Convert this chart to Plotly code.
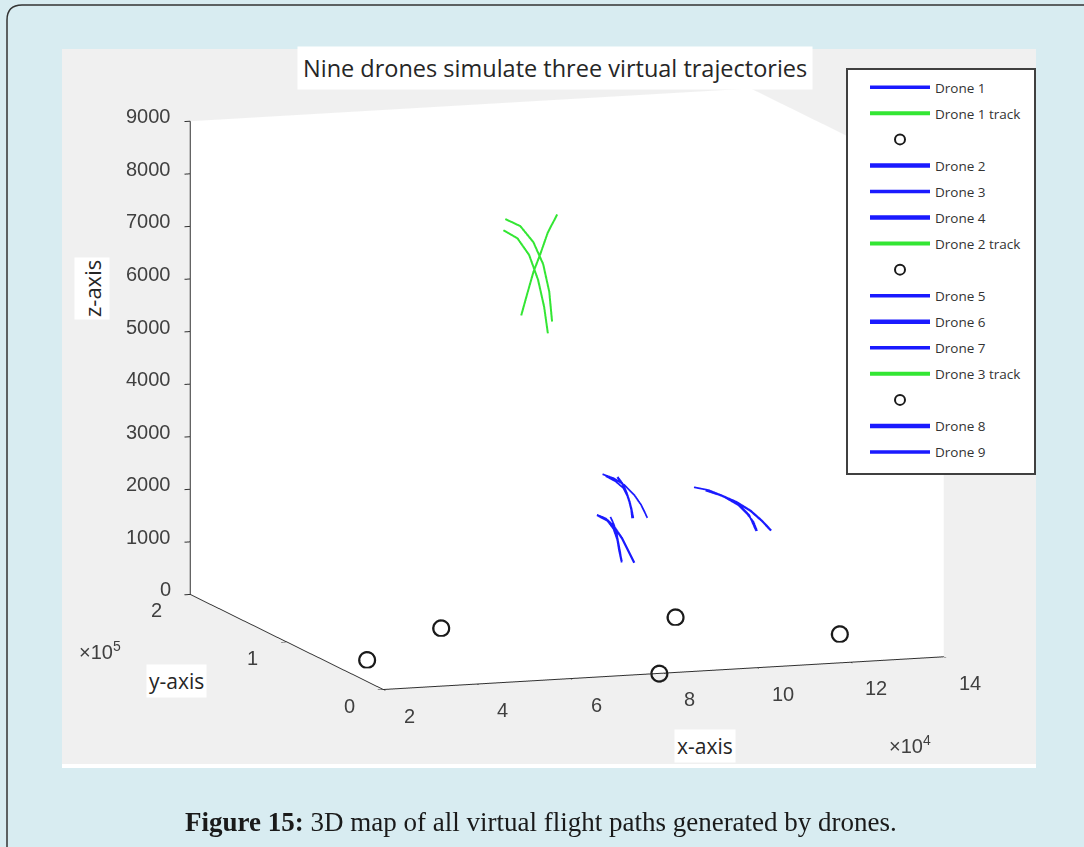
import plotly.graph_objects as go

# ---- axis limits and ticks ----
x_range = [20000, 140000]
y_range = [0, 200000]
z_range = [0, 9000]
x_ticks = [20000, 40000, 60000, 80000, 100000, 120000, 140000]
x_ticktext = ["2", "4", "6", "8", "10", "12", "14"]
y_ticks = [0, 100000, 200000]
y_ticktext = ["0", "1", "2"]
z_ticks = [0, 1000, 2000, 3000, 4000, 5000, 6000, 7000, 8000, 9000]
z_ticktext = ["0", "1000", "2000", "3000", "4000", "5000", "6000", "7000", "8000", "9000"]

# ---- drone flight paths (x, y, z) ----
d1_x = [87600, 90000, 92300, 94400, 95900, 97200]
d1_y = [100000, 100000, 100000, 100000, 100000, 100000]
d1_z = [2840, 2750, 2610, 2410, 2210, 1960]

d2_x = [90800, 91900, 92700, 93400, 93800, 94000]
d2_y = [100000, 100000, 100000, 100000, 100000, 100000]
d2_z = [2770, 2630, 2470, 2280, 2130, 1970]

d3_x = [88300, 90400, 92100, 93100, 93800, 94200]
d3_y = [100000, 100000, 100000, 100000, 100000, 100000]
d3_z = [2800, 2690, 2550, 2360, 2160, 1970]

d4_x = [86400, 88300, 90000, 91700, 93100, 94400]
d4_y = [100000, 100000, 100000, 100000, 100000, 100000]
d4_z = [2070, 1990, 1840, 1610, 1360, 1120]

d5_x = [89300, 90000, 90600, 91000, 91400, 91700]
d5_y = [100000, 100000, 100000, 100000, 100000, 100000]
d5_z = [2020, 1880, 1710, 1520, 1330, 1140]

d6_x = [86800, 88700, 90000, 90800, 91200, 91700]
d6_y = [100000, 100000, 100000, 100000, 100000, 100000]
d6_z = [2050, 1950, 1790, 1580, 1370, 1160]

d7_x = [107200, 110300, 113500, 116700, 119000, 120500]
d7_y = [100000, 100000, 100000, 100000, 100000, 100000]
d7_z = [2490, 2420, 2290, 2120, 1900, 1590]

d8_x = [109700, 112900, 116300, 119300, 121800, 123700]
d8_y = [100000, 100000, 100000, 100000, 100000, 100000]
d8_z = [2420, 2310, 2160, 1980, 1770, 1580]

d9_x = [110600, 113700, 116700, 118600, 119900, 120700]
d9_y = [100000, 100000, 100000, 100000, 100000, 100000]
d9_z = [2400, 2270, 2100, 1920, 1770, 1590]

# ---- virtual tracks ----
t1_x = [66800, 70000, 72800, 74900, 76200, 76800]
t1_y = [100000, 100000, 100000, 100000, 100000, 100000]
t1_z = [7800, 7650, 7330, 6900, 6370, 5800]

t2_x = [66400, 69400, 71900, 73800, 75100, 75900]
t2_y = [100000, 100000, 100000, 100000, 100000, 100000]
t2_z = [7590, 7420, 7090, 6610, 6090, 5580]

t3_x = [77900, 75900, 74300, 72800, 71500, 70200]
t3_y = [100000, 100000, 100000, 100000, 100000, 100000]
t3_z = [7830, 7500, 7100, 6760, 6360, 5950]

# ---- low-altitude markers ----
m1_x = [25300, 51800]
m1_y = [42900, 94400]
m1_z = [150, 150]
m2_x = [79000, 100900]
m2_y = [0, 89200]
m2_z = [0, 150]
m3_x = [125800]
m3_y = [39500]
m3_z = [150]

BLUE = "#1a1aff"
GREEN = "#33e633"
TXT = "#262626"
TICK = "#404040"
W = 1084
H = 847


def px_x(v):
    return v / W


def px_y(v):
    return 1 - v / H


fig = go.Figure()


def path_trace(name, xs, ys, zs, color, width, idx):
    fig.add_trace(go.Scatter3d(
        x=xs, y=ys, z=zs, mode="lines", name=name,
        line=dict(color=color, width=width),
        legendgroup="g%d" % idx, hoverinfo="skip"))


def marker_trace(xs, ys, zs, idx):
    fig.add_trace(go.Scatter3d(
        x=xs, y=ys, z=zs, mode="markers", name="",
        marker=dict(symbol="circle-open", size=10, color="#1a1a1a",
                    line=dict(color="#1a1a1a", width=2)),
        legendgroup="g%d" % idx, hoverinfo="skip"))


path_trace("Drone 1", d1_x, d1_y, d1_z, BLUE, 3.5, 1)
path_trace("Drone 1 track", t1_x, t1_y, t1_z, GREEN, 4, 2)
marker_trace(m1_x, m1_y, m1_z, 3)
path_trace("Drone 2", d2_x, d2_y, d2_z, BLUE, 4.5, 4)
path_trace("Drone 3", d3_x, d3_y, d3_z, BLUE, 3.5, 5)
path_trace("Drone 4", d4_x, d4_y, d4_z, BLUE, 4.5, 6)
path_trace("Drone 2 track", t2_x, t2_y, t2_z, GREEN, 4, 7)
marker_trace(m2_x, m2_y, m2_z, 8)
path_trace("Drone 5", d5_x, d5_y, d5_z, BLUE, 3.5, 9)
path_trace("Drone 6", d6_x, d6_y, d6_z, BLUE, 4.5, 10)
path_trace("Drone 7", d7_x, d7_y, d7_z, BLUE, 3.5, 11)
path_trace("Drone 3 track", t3_x, t3_y, t3_z, GREEN, 4, 12)
marker_trace(m3_x, m3_y, m3_z, 13)
path_trace("Drone 8", d8_x, d8_y, d8_z, BLUE, 4.5, 14)
path_trace("Drone 9", d9_x, d9_y, d9_z, BLUE, 3.5, 15)

tick_font = dict(family="Liberation Sans, Arial, sans-serif", size=20, color=TICK)


def axis(rng, vals):
    return dict(
        range=rng, autorange=False, tickvals=vals,
        showticklabels=False,
        showgrid=False, zeroline=False, showspikes=False,
        showline=True, linecolor="#303030", linewidth=2,
        ticks="outside", ticklen=6, tickcolor="#303030", tickwidth=2,
        showbackground=True, backgroundcolor="white",
        title=dict(text=""))


# tick labels anchored at the tick positions in data space
# (the far edges are nudged just inside the range so they are not culled)
x_edge = x_range[0]
y_near = y_range[0]
y_far = y_range[1] - 10
z_floor = z_range[0]
scene_labels = []
for v, t in zip(x_ticks, x_ticktext):
    scene_labels.append(dict(x=min(v, x_range[1] - 10), y=y_near, z=z_floor, text=t,
                             showarrow=False, xanchor="center", yanchor="middle",
                             xshift=26, yshift=-26, font=tick_font))
for v, t in zip(y_ticks, y_ticktext):
    scene_labels.append(dict(x=x_edge, y=min(v, y_far), z=z_floor, text=t,
                             showarrow=False, xanchor="center", yanchor="middle",
                             xshift=-34, yshift=-16, font=tick_font))
for v, t in zip(z_ticks, z_ticktext):
    scene_labels.append(dict(x=x_edge, y=y_far, z=min(v, z_range[1] - 1), text=t,
                             showarrow=False, xanchor="right", yanchor="middle",
                             xshift=-17, yshift=5, font=tick_font))

# orthographic view: zoom is set through the box aspect ratio
box_scale = 1.56
eye_dir = (-0.3209, -0.9318, 0.1696)
eye_r = 2.0
cx, cy = 567, 389
hw, hh = 480, 380

label_font = dict(family="Open Sans, sans-serif", size=21, color=TXT)

# legend frame (pixels)
leg_l, leg_r, leg_t, leg_b = 847, 1035, 69, 474


def paper_note(text, x, y, **kw):
    d = dict(text=text, x=px_x(x), y=px_y(y), xref="paper", yref="paper",
             xanchor="center", yanchor="middle", showarrow=False)
    d.update(kw)
    return d


fig.update_layout(
    width=W, height=H,
    margin=dict(l=0, r=0, t=0, b=0),
    paper_bgcolor="#d8ecf1",
    showlegend=True,
    scene=dict(
        domain=dict(x=[px_x(cx - hw), px_x(cx + hw)],
                    y=[px_y(cy + hh), px_y(cy - hh)]),
        bgcolor="rgba(0,0,0,0)",
        xaxis=axis(x_range, x_ticks),
        yaxis=axis(y_range, y_ticks),
        zaxis=axis(z_range, z_ticks),
        aspectmode="manual",
        aspectratio=dict(x=box_scale, y=box_scale, z=0.81 * box_scale),
        camera=dict(
            eye=dict(x=eye_r * eye_dir[0], y=eye_r * eye_dir[1], z=eye_r * eye_dir[2]),
            up=dict(x=0, y=0, z=1),
            center=dict(x=0, y=0, z=0),
            projection=dict(type="orthographic")),
        annotations=scene_labels,
    ),
    legend=dict(
        x=px_x(849), y=px_y(72), xanchor="left", yanchor="top",
        bgcolor="white", borderwidth=0,
        font=dict(family="Open Sans, sans-serif", size=13.5, color="#333333"),
        tracegroupgap=5.5, itemwidth=60, traceorder="grouped",
        indentation=16),
    shapes=[
        # image panel
        dict(type="rect", xref="paper", yref="paper", layer="below",
             x0=px_x(62), x1=px_x(1036), y0=px_y(768), y1=px_y(49),
             fillcolor="white", line=dict(width=0)),
        dict(type="rect", xref="paper", yref="paper", layer="below",
             x0=px_x(62), x1=px_x(1036), y0=px_y(764), y1=px_y(49),
             fillcolor="#f0f0f0", line=dict(width=0)),
        # legend background
        dict(type="rect", xref="paper", yref="paper", layer="below",
             x0=px_x(leg_l), x1=px_x(leg_r), y0=px_y(leg_b), y1=px_y(leg_t),
             fillcolor="white", line=dict(width=0)),
        # rounded frame
        dict(type="path", xref="paper", yref="paper", layer="below",
             path="M %f,%f L %f,%f Q %f,%f %f,%f L %f,%f" % (
                 px_x(7), px_y(860), px_x(7), px_y(20), px_x(7), px_y(5),
                 px_x(22), px_y(5), px_x(1100), px_y(5)),
             line=dict(color="#333333", width=1.5)),
    ],
    annotations=[
        # legend border, drawn over the 3D scene
        paper_note(" ", (leg_l + leg_r) / 2, (leg_t + leg_b) / 2,
                   width=leg_r - leg_l - 2, height=leg_b - leg_t - 2, borderpad=0,
                   bordercolor="#404040", borderwidth=2, bgcolor="rgba(0,0,0,0)"),
        paper_note("Nine drones simulate three virtual trajectories", 555, 68,
                   bgcolor="white", borderpad=5,
                   font=dict(family="Open Sans, sans-serif", size=23.5, color=TXT)),
        paper_note("z-axis", 92, 289, textangle=-90, bgcolor="white", borderpad=2,
                   font=dict(family="Open Sans, sans-serif", size=22, color=TXT)),
        paper_note("y-axis", 176, 681, bgcolor="white", borderpad=2, font=label_font),
        paper_note("x-axis", 705, 746, bgcolor="white", borderpad=2, font=label_font),
        paper_note("×10<sup>5</sup>", 100, 650, font=tick_font),
        paper_note("×10<sup>4</sup>", 910, 744, font=tick_font),
        paper_note("<b>Figure 15:</b> 3D map of all virtual flight paths generated by drones.",
                   541, 822, font=dict(family="Liberation Serif, serif", size=27, color="#1a1a1a")),
    ],
)

fig.write_html("out.html")
